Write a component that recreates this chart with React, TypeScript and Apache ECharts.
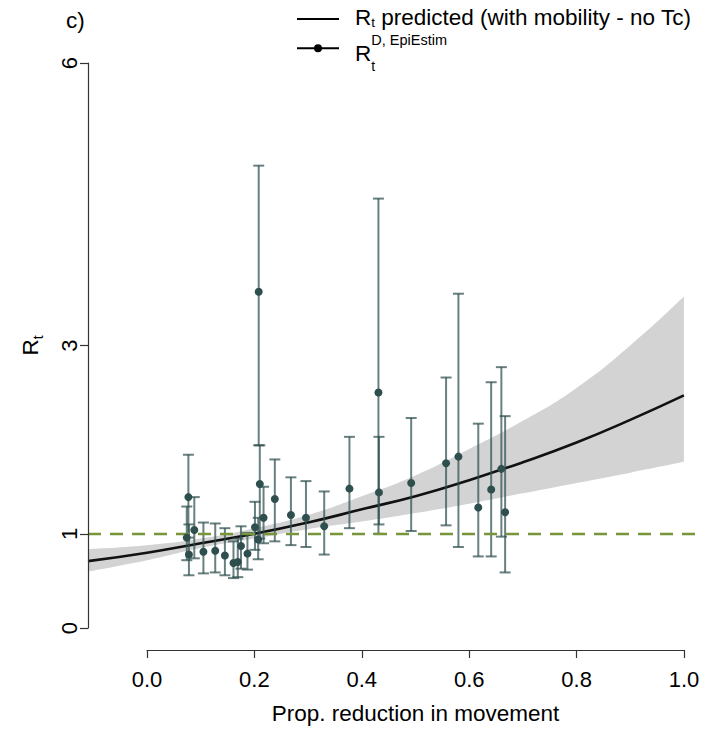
import React, { useEffect, useRef } from "react";
import * as echarts from "echarts";

// Observed Rt (EpiEstim) with 95% CrI, against proportional reduction in movement
const pointX = [0.074, 0.077, 0.078, 0.088, 0.105, 0.127, 0.145, 0.161, 0.169, 0.175, 0.187, 0.201, 0.207, 0.208, 0.21, 0.217, 0.238, 0.268, 0.296, 0.33, 0.377, 0.431, 0.432, 0.492, 0.557, 0.58, 0.617, 0.641, 0.66, 0.667];
const pointR = [0.96, 1.39, 0.78, 1.04, 0.81, 0.82, 0.77, 0.69, 0.7, 0.87, 0.79, 1.07, 0.94, 3.57, 1.53, 1.17, 1.37, 1.2, 1.17, 1.08, 1.48, 2.5, 1.44, 1.54, 1.75, 1.82, 1.28, 1.47, 1.69, 1.23];
const pointLo = [0.72, 0.96, 0.56, 0.74, 0.58, 0.59, 0.56, 0.53, 0.54, 0.63, 0.62, 0.83, 0.73, 1.94, 0.95, 0.9, 0.92, 0.88, 0.86, 0.78, 1.06, 1.0, 1.1, 1.03, 1.09, 0.86, 0.76, 0.76, 0.97, 0.59];
const pointHi = [1.29, 1.84, 1.1, 1.39, 1.12, 1.11, 1.06, 0.92, 0.95, 1.08, 1.01, 1.34, 1.17, 4.91, 1.94, 1.5, 1.79, 1.6, 1.56, 1.45, 2.03, 4.56, 2.03, 2.23, 2.66, 3.55, 2.17, 2.61, 2.77, 2.25];

// Predicted Rt curve (with mobility - no Tc) and its band
const curveX = [-0.11, 0, 0.1, 0.2, 0.3, 0.4, 0.5, 0.6, 0.7, 0.8, 0.9, 1.0];
const curveR = [0.71, 0.8, 0.9, 1.0, 1.12, 1.26, 1.4, 1.57, 1.76, 1.97, 2.21, 2.47];
const bandLo = [0.6, 0.72, 0.85, 0.95, 1.05, 1.13, 1.22, 1.32, 1.43, 1.54, 1.65, 1.765];
const bandHi = [0.84, 0.88, 0.95, 1.06, 1.2, 1.4, 1.62, 1.9, 2.2, 2.55, 3.0, 3.52];

const xTicks = [0, 0.2, 0.4, 0.6, 0.8, 1.0];
const yTicks = [0, 1, 3, 6];
const refLine = 1;

const FONT = "'Liberation Sans', Arial, Helvetica, sans-serif";
const ICON_LINE = "path://M0,4H42V6H0Z";
const ICON_DOT = "path://M0,4H42V6H0Z M17,5A4,4 0 1,1 25,5A4,4 0 1,1 17,5Z";
const FS = 22.5;

export default function App() {
  const ref = useRef<HTMLDivElement>(null);
  useEffect(() => {
    const chart = echarts.init(ref.current!, null, { renderer: "svg" });
    const errData = pointX.map((x, i) => [x, pointR[i], pointLo[i], pointHi[i]]);
    const option: any = {
      animation: false,
      backgroundColor: "#fff",
      title: {
        text: "c)",
        left: 66,
        top: 9,
        padding: 0,
        textStyle: { fontFamily: FONT, fontSize: FS, fontWeight: "normal", color: "#000" },
      },
      legend: [
        {
          data: [{ name: "pred", icon: ICON_LINE, itemStyle: { color: "#000", opacity: 1 } }],
          left: 297,
          top: 3.5,
          padding: 0,
          itemWidth: 42,
          itemHeight: 10,
          selectedMode: false,
          itemStyle: { color: "#000", borderWidth: 0, opacity: 1 },
          formatter: () => "{m|R}{s|t}{n| predicted (with mobility - no Tc)}",
          textStyle: {
            fontFamily: FONT,
            color: "#000",
            rich: {
              m: { fontFamily: FONT, fontSize: FS, color: "#000", verticalAlign: "top", padding: [2.5, 0, 0, 11], lineHeight: 25 },
              s: { fontFamily: FONT, fontSize: 13.5, color: "#000", verticalAlign: "top", padding: [11.5, 0, 0, 0], lineHeight: 31 },
              n: { fontFamily: FONT, fontSize: FS, color: "#000", verticalAlign: "top", padding: [2.5, 0, 0, 0], lineHeight: 25 },
            },
          },
        },
        {
          data: [{ name: "obs", icon: ICON_DOT, itemStyle: { color: "#000", borderWidth: 0, opacity: 1 } }],
          left: 297,
          top: 23.3,
          padding: 0,
          itemWidth: 42,
          itemHeight: 10,
          selectedMode: false,
          itemStyle: { color: "#000", borderWidth: 0, opacity: 1 },
          formatter: () => "{m|R}{s|t}{p|D, EpiEstim}",
          textStyle: {
            fontFamily: FONT,
            color: "#000",
            rich: {
              m: { fontFamily: FONT, fontSize: FS, color: "#000", verticalAlign: "top", padding: [19, 0, 0, 11], lineHeight: 43 },
              s: { fontFamily: FONT, fontSize: 14, color: "#000", verticalAlign: "top", padding: [36, 0, 0, 0], lineHeight: 50, width: 0 },
              p: { fontFamily: FONT, fontSize: 14.5, color: "#000", verticalAlign: "top", padding: [9.5, 0, 0, 0], lineHeight: 24 },
            },
          },
        },
      ],
      grid: [
        { left: 88, right: 8, top: 63, bottom: 103 },
        { left: 147, right: 24, top: 600, bottom: 81 },
      ],
      xAxis: [
        { type: "value", gridIndex: 0, min: -0.11, max: 1.03, show: false },
        {
          type: "value",
          gridIndex: 1,
          min: 0,
          max: 1,
          interval: 0.2,
          position: "bottom",
          axisLine: { show: true, onZero: false, lineStyle: { color: "#333", width: 1.2 } },
          axisTick: { show: true, length: 8, lineStyle: { color: "#333", width: 1.2 } },
          axisLabel: {
            show: true,
            margin: 18,
            fontFamily: FONT,
            fontSize: 22,
            color: "#000",
            formatter: (v: number) => v.toFixed(1),
            customValues: xTicks,
          },
          splitLine: { show: false },
          name: "Prop. reduction in movement",
          nameLocation: "middle",
          nameGap: 52,
          nameTextStyle: { fontFamily: FONT, fontSize: FS, color: "#000" },
        },
      ],
      yAxis: [
        {
          type: "value",
          gridIndex: 0,
          min: 0,
          max: 6,
          position: "left",
          z: 10,
          axisLine: { show: true, onZero: false, lineStyle: { color: "#333", width: 1.2 } },
          axisTick: { show: true, length: 8, customValues: yTicks, lineStyle: { color: "#333", width: 1.2 } },
          axisLabel: {
            show: true,
            rotate: 90,
            margin: 8,
            fontFamily: FONT,
            fontSize: 22,
            color: "#000",
            customValues: yTicks,
          },
          splitLine: { show: false },
          name: "{m|R}{s|t}",
          nameLocation: "middle",
          nameRotate: 90,
          nameGap: 43,
          nameTextStyle: {
            fontFamily: FONT,
            rich: {
              m: { fontFamily: FONT, fontSize: FS, color: "#000", verticalAlign: "top", padding: [0, 0, 0, 0], lineHeight: 22 },
              s: { fontFamily: FONT, fontSize: 14, color: "#000", verticalAlign: "top", padding: [12, 0, 0, 0], lineHeight: 26 },
            },
          },
        },
        { type: "value", gridIndex: 1, min: 0, max: 1, show: false },
      ],
      series: [
        {
          name: "bandLo",
          type: "line",
          xAxisIndex: 0,
          yAxisIndex: 0,
          stack: "band",
          smooth: true,
          symbol: "none",
          silent: true,
          lineStyle: { opacity: 0 },
          encode: { x: 1, y: 0 },
          data: curveX.map((x, i) => [bandLo[i], x]),
          z: 1,
        },
        {
          name: "bandHi",
          type: "line",
          xAxisIndex: 0,
          yAxisIndex: 0,
          stack: "band",
          smooth: true,
          symbol: "none",
          silent: true,
          lineStyle: { opacity: 0 },
          areaStyle: { color: "#d3d3d3", opacity: 1 },
          encode: { x: 1, y: 0 },
          data: curveX.map((x, i) => [bandHi[i] - bandLo[i], x]),
          z: 1,
        },
        {
          name: "pred",
          type: "line",
          xAxisIndex: 0,
          yAxisIndex: 0,
          smooth: true,
          symbol: "none",
          color: "#000",
          lineStyle: { color: "#111", width: 2.6 },
          data: curveX.map((x, i) => [x, curveR[i]]),
          z: 3,
          markLine: {
            silent: true,
            symbol: ["none", "none"],
            label: { show: false },
            lineStyle: { color: "#78953a", width: 2.4, type: [13, 9] },
            data: [{ yAxis: refLine }],
          },
        },
        {
          name: "errbars",
          type: "custom",
          xAxisIndex: 0,
          yAxisIndex: 0,
          silent: true,
          z: 4,
          encode: { x: 0, y: [1, 2, 3] },
          data: errData,
          renderItem: (params: any, api: any) => {
            const x = api.value(0);
            const top = api.coord([x, api.value(3)]);
            const bot = api.coord([x, api.value(2)]);
            const hw = 5.5;
            const style = { stroke: "rgba(47,79,79,0.72)", lineWidth: 2 };
            return {
              type: "group",
              children: [
                { type: "line", shape: { x1: top[0], y1: top[1], x2: bot[0], y2: bot[1] }, style },
                { type: "line", shape: { x1: top[0] - hw, y1: top[1], x2: top[0] + hw, y2: top[1] }, style },
                { type: "line", shape: { x1: bot[0] - hw, y1: bot[1], x2: bot[0] + hw, y2: bot[1] }, style },
              ],
            };
          },
        },
        {
          name: "obs",
          type: "scatter",
          xAxisIndex: 0,
          yAxisIndex: 0,
          symbol: "circle",
          symbolSize: 8,
          itemStyle: { color: "#2f4f4f", opacity: 1 },
          data: pointX.map((x, i) => [x, pointR[i]]),
          z: 5,
        },
      ],
    };
    chart.setOption(option);
    return () => chart.dispose();
  }, []);
  return (
    <div
      ref={ref}
      style={{ position: "fixed", left: 0, top: 0, width: 708, height: 731, background: "#fff" }}
    />
  );
}
